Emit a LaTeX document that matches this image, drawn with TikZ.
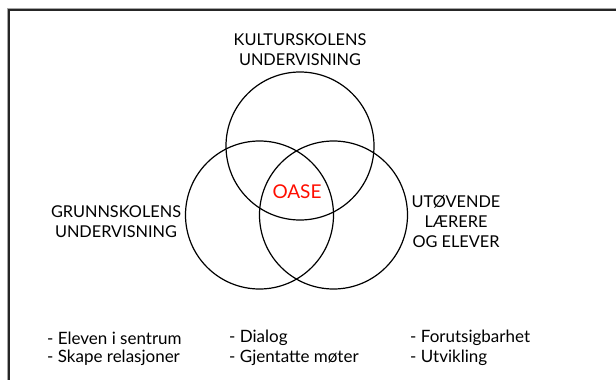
\documentclass[tikz,border=0pt]{standalone}
\usepackage{fontspec}
\setmainfont{Lato}
\usepackage{tikz}

\begin{document}
\begin{tikzpicture}[
		x=1pt, y=-1pt,
		every node/.style={font=\fontsize{16.3}{20}\selectfont, inner sep=0pt},
		ring/.style={circle, draw, line width=1.2pt, minimum size=148pt},
		heading/.style={align=center},
		item/.style={anchor=west, font=\fontsize{17}{20}\selectfont}
	]
  \useasboundingbox (0,0) rectangle (616,380);
  % frame
  \draw[black!35, line width=1pt] (7,380) -- (7,8) -- (616,8);
  \draw[black!85, line width=1.4pt] (8.8,380) -- (8.8,9.8) -- (616,9.8);
  % the three circles
  \node (kultur) [ring] at (300, 146) {};
  \node (grunn) [ring] at (259.5, 215) {};
  \node (utov) [ring] at (333.5, 215) {};
  \node (kultur_label) [heading] at (300, 50) {KULTURSKOLENS\\UNDERVISNING};
  \node (grunn_label) [heading] at (116, 222) {GRUNNSKOLENS\\UNDERVISNING};
  \node (utov_label) [heading] at (456, 221) {UTØVENDE\\LÆRERE\\OG ELEVER};
  \node (oase) [text=red!90!orange, font=\fontsize{19}{20}\selectfont] at (297, 192) {OASE};
  % lists below
  \node (e1) [item] at (47, 338) {- Eleven i sentrum};
  \node (e2) [item] at (47, 358) {- Skape relasjoner};
  \node (d1) [item] at (229, 338) {- Dialog};
  \node (d2) [item] at (229, 358) {- Gjentatte møter};
  \node (f1) [item] at (410, 338) {- Forutsigbarhet};
  \node (f2) [item] at (410, 358) {- Utvikling};
\end{tikzpicture}
\end{document}
